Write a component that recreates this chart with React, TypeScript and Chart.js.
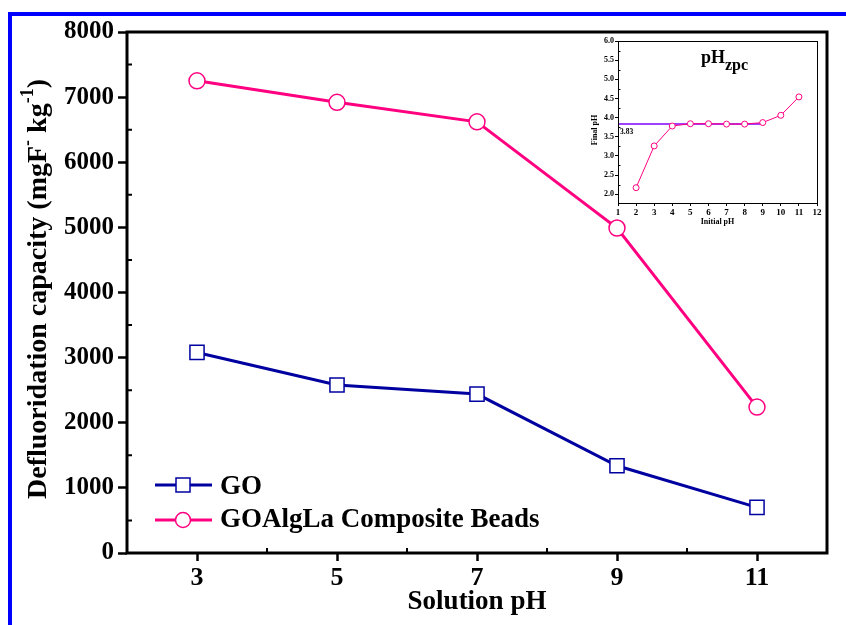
import React, { useEffect, useRef } from "react";
import { Chart, registerables } from "chart.js";

Chart.register(...registerables);

// ---------- data ----------
const phValues = [3, 5, 7, 9, 11];
const goCapacity = [3080, 2580, 2440, 1340, 700];
const beadsCapacity = [7250, 6920, 6620, 4990, 2240];
const xTickValues = [3, 5, 7, 9, 11];
const xMinorTicks = [4, 6, 8, 10];
const yMinorTicks = [500, 1500, 2500, 3500, 4500, 5500, 6500, 7500];
const seriesLabels = ["GO", "GOAlgLa Composite Beads"];

const insetInitialPh = [2, 3, 4, 5, 6, 7, 8, 9, 10, 11];
const insetFinalPh = [2.17, 3.26, 3.78, 3.84, 3.84, 3.83, 3.83, 3.87, 4.06, 4.54];
const zpcRangeX = [1, 9];
const zpcValue = 3.83;
const insetXTicks = [1, 2, 3, 4, 5, 6, 7, 8, 9, 10, 11, 12];
const insetYTicks = [2.0, 2.5, 3.0, 3.5, 4.0, 4.5, 5.0, 5.5, 6.0];
const insetYMinor = [2.25, 2.75, 3.25, 3.75, 4.25, 4.75, 5.25, 5.75];

// ---------- styles ----------
const SERIF = '"Liberation Serif", "Times New Roman", serif';
const BLUE = "#0000a0";
const PINK = "#ff0080";
const PURPLE = "#8000ff";
const FRAME_BLUE = "#0000ff";

type Part = { text: string; size: number; dy: number };

function drawParts(ctx: CanvasRenderingContext2D, parts: Part[], cx: number, cy: number) {
  let total = 0;
  for (const p of parts) {
    ctx.font = `bold ${p.size}px ${SERIF}`;
    total += ctx.measureText(p.text).width;
  }
  let x = cx - total / 2;
  ctx.textAlign = "left";
  ctx.textBaseline = "alphabetic";
  for (const p of parts) {
    ctx.font = `bold ${p.size}px ${SERIF}`;
    ctx.fillText(p.text, x, cy + p.dy);
    x += ctx.measureText(p.text).width;
  }
}

const mainDecor = {
  id: "mainDecor",
  afterDraw(chart: any) {
    const { ctx, chartArea: a, scales } = chart;
    const xs = scales.x;
    const ys = scales.y;
    ctx.save();
    // outer blue frame (left + top)
    ctx.fillStyle = FRAME_BLUE;
    ctx.fillRect(8, 12, 846, 4);
    ctx.fillRect(8, 12, 4, 625);
    // plot frame
    ctx.strokeStyle = "#000";
    ctx.lineWidth = 3;
    ctx.strokeRect(a.left, a.top, a.right - a.left, a.bottom - a.top);
    // minor ticks (inward)
    ctx.lineWidth = 2;
    ctx.beginPath();
    for (const v of yMinorTicks) {
      const y = ys.getPixelForValue(v);
      ctx.moveTo(a.left, y);
      ctx.lineTo(a.left + 5, y);
    }
    for (const v of xMinorTicks) {
      const x = xs.getPixelForValue(v);
      ctx.moveTo(x, a.bottom);
      ctx.lineTo(x, a.bottom - 5);
    }
    ctx.stroke();
    // axis titles
    ctx.fillStyle = "#000";
    ctx.font = `bold 27px ${SERIF}`;
    ctx.textAlign = "center";
    ctx.textBaseline = "alphabetic";
    ctx.fillText("Solution pH", (a.left + a.right) / 2, 609);
    ctx.save();
    ctx.translate(46, 289);
    ctx.rotate(-Math.PI / 2);
    drawParts(
      ctx,
      [
        { text: "Defluoridation capacity (mgF", size: 28, dy: 0 },
        { text: "-", size: 18, dy: -13 },
        { text: " kg", size: 28, dy: 0 },
        { text: "-1", size: 18, dy: -13 },
        { text: ")", size: 28, dy: 0 },
      ],
      0,
      0
    );
    ctx.restore();
    // legend
    const rows = [485, 520];
    const baselines = [494, 527];
    chart.data.datasets.forEach((ds: any, i: number) => {
      const y = rows[i];
      ctx.strokeStyle = ds.borderColor;
      ctx.lineWidth = ds.borderWidth;
      ctx.beginPath();
      ctx.moveTo(155, y);
      ctx.lineTo(212, y);
      ctx.stroke();
      ctx.fillStyle = "#fff";
      ctx.strokeStyle = ds.pointBorderColor;
      ctx.lineWidth = ds.pointBorderWidth;
      ctx.beginPath();
      if (ds.pointStyle === "rect") {
        ctx.rect(183 - 7, y - 7, 14, 14);
      } else {
        ctx.arc(183, y, 7.5, 0, Math.PI * 2);
      }
      ctx.fill();
      ctx.stroke();
      ctx.fillStyle = "#000";
      ctx.font = `bold 27px ${SERIF}`;
      ctx.textAlign = "left";
      ctx.textBaseline = "alphabetic";
      ctx.fillText(ds.label, 220, baselines[i]);
    });
    ctx.restore();
  },
};

const insetDecor = {
  id: "insetDecor",
  afterDraw(chart: any) {
    const { ctx, chartArea: a, scales } = chart;
    const ys = scales.y;
    ctx.save();
    ctx.strokeStyle = "#000";
    ctx.lineWidth = 1;
    ctx.strokeRect(a.left + 0.5, a.top + 0.5, a.right - a.left, a.bottom - a.top);
    ctx.beginPath();
    for (const v of insetYMinor) {
      const y = Math.round(ys.getPixelForValue(v)) + 0.5;
      ctx.moveTo(a.left, y);
      ctx.lineTo(a.left + 2.5, y);
    }
    ctx.stroke();
    ctx.fillStyle = "#000";
    ctx.font = `bold 8px ${SERIF}`;
    ctx.textAlign = "center";
    ctx.textBaseline = "middle";
    ctx.fillText("Initial pH", (a.left + a.right) / 2, 192);
    ctx.save();
    ctx.translate(10, 100);
    ctx.rotate(-Math.PI / 2);
    ctx.fillText("Final pH", 0, 0);
    ctx.restore();
    ctx.textAlign = "left";
    ctx.font = `bold 7.5px ${SERIF}`;
    ctx.fillText(String(zpcValue.toFixed(2)), a.left + 2, ys.getPixelForValue(zpcValue) + 8);
    // pHzpc title
    ctx.textBaseline = "alphabetic";
    ctx.font = `bold 18px ${SERIF}`;
    ctx.fillText("pH", 116, 33);
    const w = ctx.measureText("pH").width;
    ctx.font = `bold 16px ${SERIF}`;
    ctx.fillText("zpc", 116 + w, 40);
    ctx.restore();
  },
};

export default function App() {
  const mainRef = useRef<HTMLCanvasElement>(null);
  const insetRef = useRef<HTMLCanvasElement>(null);

  useEffect(() => {
    const tickFont = (size: number) => ({ family: SERIF, size, weight: "bold" as const });

    const main = new Chart(mainRef.current!, {
      type: "line",
      data: {
        datasets: [
          {
            label: seriesLabels[0],
            data: phValues.map((x, i) => ({ x, y: goCapacity[i] })),
            borderColor: BLUE,
            borderWidth: 3,
            pointStyle: "rect",
            pointRadius: 10,
            pointBorderWidth: 1.5,
            pointBackgroundColor: "#fff",
            pointBorderColor: BLUE,
          } as any,
          {
            label: seriesLabels[1],
            data: phValues.map((x, i) => ({ x, y: beadsCapacity[i] })),
            borderColor: PINK,
            borderWidth: 3,
            pointStyle: "circle",
            pointRadius: 8,
            pointBorderWidth: 1.5,
            pointBackgroundColor: "#fff",
            pointBorderColor: PINK,
          } as any,
        ],
      },
      options: {
        animation: false,
        responsive: false,
        events: [],
        layout: { padding: { left: 0, top: 32, right: 19, bottom: 0 } },
        plugins: { legend: { display: false }, tooltip: { enabled: false } },
        scales: {
          x: {
            type: "linear",
            min: 2,
            max: 12,
            afterBuildTicks: (s: any) => {
              s.ticks = xTickValues.map((v) => ({ value: v }));
            },
            afterFit: (s: any) => {
              s.height = 72;
            },
            grid: { drawOnChartArea: false, drawTicks: true, tickLength: 8, tickWidth: 2.5, tickColor: "#000" },
            border: { display: false },
            ticks: {
              font: tickFont(26),
              color: "#000",
              padding: 2,
              maxRotation: 0,
              autoSkip: false,
              callback: (v: any) => String(v),
            },
          },
          y: {
            type: "linear",
            min: 0,
            max: 8000,
            ticks: {
              stepSize: 1000,
              font: tickFont(25),
              color: "#000",
              padding: 4,
              callback: (v: any) => String(v),
            },
            afterFit: (s: any) => {
              s.width = 127;
            },
            grid: { drawOnChartArea: false, drawTicks: true, tickLength: 9, tickWidth: 2.5, tickColor: "#000" },
            border: { display: false },
          },
        },
      },
      plugins: [mainDecor],
    });

    const inset = new Chart(insetRef.current!, {
      type: "line",
      data: {
        datasets: [
          {
            label: "pHzpc",
            data: zpcRangeX.map((x) => ({ x, y: zpcValue })),
            borderColor: PURPLE,
            borderWidth: 1.5,
            pointRadius: 0,
            order: 2,
          } as any,
          {
            label: "Final pH",
            data: insetInitialPh.map((x, i) => ({ x, y: insetFinalPh[i] })),
            borderColor: PINK,
            borderWidth: 1,
            pointRadius: 3,
            pointBorderWidth: 1,
            pointBackgroundColor: "#fff",
            pointBorderColor: PINK,
            order: 1,
          } as any,
        ],
      },
      options: {
        animation: false,
        responsive: false,
        events: [],
        layout: { padding: { left: 0, top: 11, right: 13, bottom: 0 } },
        plugins: { legend: { display: false }, tooltip: { enabled: false } },
        scales: {
          x: {
            type: "linear",
            min: 1,
            max: 12,
            afterBuildTicks: (s: any) => {
              s.ticks = insetXTicks.map((v) => ({ value: v }));
            },
            afterFit: (s: any) => {
              s.height = 32;
            },
            grid: { drawOnChartArea: false, drawTicks: true, tickLength: 3, tickWidth: 1, tickColor: "#000" },
            border: { display: false },
            ticks: { font: tickFont(9), color: "#000", padding: 1, maxRotation: 0, autoSkip: false },
          },
          y: {
            type: "linear",
            min: 1.77,
            max: 6,
            afterBuildTicks: (s: any) => {
              s.ticks = insetYTicks.map((v) => ({ value: v }));
            },
            afterFit: (s: any) => {
              s.width = 33;
            },
            grid: { drawOnChartArea: false, drawTicks: true, tickLength: 3, tickWidth: 1, tickColor: "#000" },
            border: { display: false },
            ticks: {
              font: tickFont(8),
              color: "#000",
              padding: 1,
              autoSkip: false,
              callback: (v: any) => Number(v).toFixed(1),
            },
          },
        },
      },
      plugins: [insetDecor],
    });

    return () => {
      main.destroy();
      inset.destroy();
    };
  }, []);

  return (
    <div style={{ position: "fixed", left: 0, top: 0, width: 846, height: 625, background: "#fff" }}>
      <canvas ref={mainRef} width={846} height={625} style={{ position: "absolute", left: 0, top: 0, display: "block" }} />
      <canvas ref={insetRef} width={245} height={205} style={{ position: "absolute", left: 585, top: 30, display: "block" }} />
    </div>
  );
}
